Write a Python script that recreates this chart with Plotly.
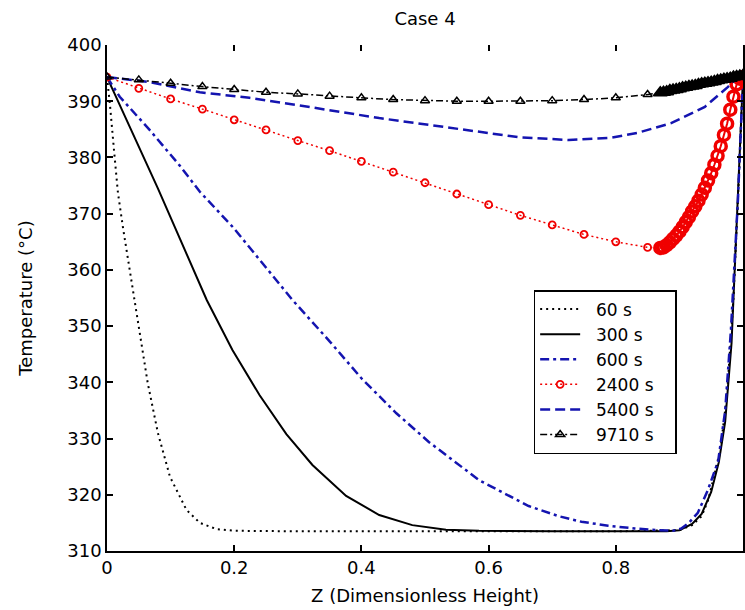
import plotly.graph_objects as go

# ---------------- data ----------------
z60 = [0, 0.0047, 0.011, 0.0172, 0.025, 0.033, 0.041, 0.052, 0.064, 0.08, 0.099, 0.125, 0.146, 0.172, 0.2,
       0.3, 0.4, 0.5, 0.6, 0.7, 0.8, 0.9, 0.92, 0.935, 0.945, 0.955, 0.965, 0.975, 0.985, 0.993, 1.0]
T60 = [394.3, 389.3, 381.3, 373.7, 367.6, 361.8, 355.9, 348.8, 339.9, 331.0, 323.2, 317.3, 315.0, 313.9, 313.6,
       313.5, 313.5, 313.5, 313.5, 313.5, 313.5, 313.7, 314.6, 316.2, 319.0, 323.5, 328.5, 338.0, 355.0, 375.0, 394.3]

z300 = [0, 0.08, 0.157, 0.197, 0.24, 0.282, 0.323, 0.376, 0.428, 0.48, 0.533, 0.585, 0.7, 0.8, 0.88,
        0.9, 0.92, 0.935, 0.95, 0.962, 0.972, 0.982, 0.99, 1.0]
T300 = [394.3, 374.5, 354.6, 345.8, 337.7, 330.8, 325.3, 319.8, 316.4, 314.6, 313.8, 313.6, 313.5, 313.5, 313.5,
        313.7, 314.8, 316.6, 320.5, 325.8, 333.0, 347.0, 368.0, 394.3]

z600 = [0, 0.02, 0.067, 0.114, 0.146, 0.198, 0.24, 0.292, 0.35, 0.401, 0.455, 0.506, 0.585, 0.663,
        0.71, 0.746, 0.788, 0.83, 0.867, 0.89, 0.903, 0.915, 0.929, 0.945, 0.961, 0.972, 0.981, 0.992, 1.0]
T600 = [394.3, 390.8, 384.9, 378.6, 373.9, 367.6, 361.8, 354.6, 347.3, 340.6, 334.5, 329.4, 322.6, 318.0,
        316.2, 315.2, 314.5, 314.0, 313.7, 313.6, 314.0, 315.0, 316.8, 320.9, 326.0, 335.0, 349.3, 372.4, 394.3]

z5400 = [0, 0.067, 0.146, 0.224, 0.3, 0.428, 0.506, 0.585, 0.647, 0.726, 0.793, 0.835, 0.887, 0.94, 0.976, 0.992, 1.0]
T5400 = [394.3, 393.4, 391.6, 390.6, 389.3, 387.0, 385.8, 384.5, 383.6, 383.1, 383.5, 384.4, 386.1, 389.0, 392.5, 394.3, 394.5]

# coarse grid (marker series) and refined grid near the top
z_coarse = [0, 0.05, 0.1, 0.15, 0.2, 0.25, 0.3, 0.35, 0.4, 0.45, 0.5, 0.55, 0.6, 0.65, 0.7, 0.75, 0.8, 0.85, 0.87]
z_dense = [0.87, 0.875, 0.88, 0.885, 0.89, 0.895, 0.9, 0.905, 0.91, 0.915, 0.92, 0.925, 0.93, 0.935,
           0.94, 0.945, 0.95, 0.955, 0.96, 0.965, 0.97, 0.975, 0.98, 0.985, 0.99, 0.995, 1.0]

T2400_coarse = [394.3, 392.3, 390.4, 388.6, 386.7, 384.9, 383.0, 381.2, 379.3, 377.4, 375.5, 373.5,
                371.6, 369.7, 368.0, 366.3, 365.0, 364.0, 363.9]
T2400_dense = [363.9, 364.0, 364.4, 364.9, 365.5, 366.1, 366.8, 367.6, 368.5, 369.4, 370.4, 371.3, 372.3,
               373.4, 374.6, 375.9, 377.2, 378.7, 380.3, 382.0, 384.0, 386.0, 388.5, 390.8, 393.0, 394.0, 394.3]

T9710_coarse = [394.3, 393.8, 393.2, 392.6, 392.1, 391.6, 391.3, 390.9, 390.6, 390.3, 390.1, 390.0,
                390.0, 390.0, 390.1, 390.3, 390.6, 391.2, 391.5]
T9710_dense = [391.5, 391.6, 391.7, 391.9, 392.0, 392.1, 392.2, 392.4, 392.5, 392.6, 392.7, 392.8, 393.0,
               393.1, 393.2, 393.3, 393.4, 393.5, 393.7, 393.8, 393.9, 394.0, 394.1, 394.3, 394.4, 394.5, 394.6]

x_ticks = [0, 0.2, 0.4, 0.6, 0.8, 1]
x_ticklabels = ["0", "0.2", "0.4", "0.6", "0.8", "1"]
y_ticks = [310, 320, 330, 340, 350, 360, 370, 380, 390, 400]

labels = ["60 s", "300 s", "600 s", "2400 s", "5400 s", "9710 s"]

# ---------------- styles ----------------
BLUE = "#1414b0"
RED = "#f00000"
FONT = "DejaVu Sans"
FS = 18
NB = "\u00a0"

fig = go.Figure()

def add(x, y, name, color, dash, width, mode="lines", marker=None, showlegend=True):
    fig.add_trace(go.Scatter(
        x=x, y=y, name=NB * 2 + name + NB * 3, mode=mode,
        line=dict(color=color, dash=dash, width=width),
        marker=marker, legendgroup=name, showlegend=showlegend))

add(z60, T60, labels[0], "black", "2px,4px", 2)
add(z300, T300, labels[1], "black", "solid", 2)
add(z600, T600, labels[2], BLUE, "9px,4px,3px,4px", 2.5)
add(z_coarse, T2400_coarse, labels[3], RED, "2px,3px", 1.5,
    mode="lines+markers", marker=dict(symbol="circle-open", size=7, color=RED, line=dict(width=1.8, color=RED)))
add(z_dense, T2400_dense, labels[3], RED, "solid", 2,
    mode="lines+markers", marker=dict(symbol="circle-open", size=11, color=RED, line=dict(width=3.5, color=RED)),
    showlegend=False)
add(z5400, T5400, labels[4], BLUE, "10px,5px", 2.5)
add(z_coarse, T9710_coarse, labels[5], "black", "7px,3px,2px,3px", 1.5,
    mode="lines+markers", marker=dict(symbol="triangle-up-open", size=8, color="black", line=dict(width=1.5, color="black")))
add(z_dense, T9710_dense, labels[5], "black", "solid", 2,
    mode="lines+markers", marker=dict(symbol="triangle-up", size=12, color="black", line=dict(width=1.5, color="black")),
    showlegend=False)

# helper trace so that the top (tick-only) axis is drawn
fig.add_trace(go.Scatter(x=z60, y=T60, xaxis="x2", mode="lines", line=dict(width=0),
                         opacity=0, showlegend=False, hoverinfo="skip"))

axis_font = dict(family=FONT, size=FS, color="black")
fig.update_layout(
    width=745, height=610,
    margin=dict(l=107, r=0, t=45, b=59),
    paper_bgcolor="white", plot_bgcolor="white",
    font=axis_font,
    title=dict(text="Case 4", x=0.5, xref="paper", y=1 - 19 / 610, yanchor="middle",
               xanchor="center", font=dict(family=FONT, size=FS, color="black")),
    xaxis=dict(range=[0, 1], tickvals=x_ticks, ticktext=x_ticklabels, ticks="inside", ticklen=6,
               tickcolor="black", tickwidth=1.5, showline=True, linecolor="black", linewidth=1.5,
               mirror=False, showgrid=False, zeroline=False, tickfont=axis_font,
               title=dict(text="Z (Dimensionless Height)", font=axis_font, standoff=12)),
    xaxis2=dict(range=[0, 1], overlaying="x", side="top", tickvals=x_ticks, ticks="inside", ticklen=6,
                tickcolor="black", tickwidth=1.5, showticklabels=False, showline=False,
                showgrid=False, zeroline=False),
    yaxis=dict(range=[310, 400], tickvals=y_ticks, ticks="inside", ticklen=6, tickcolor="black",
               tickwidth=1.5, showline=True, linecolor="black", linewidth=1.5, mirror="ticks",
               showgrid=False, zeroline=False, tickfont=axis_font,
               title=dict(text="Temperature (°C)", font=axis_font, standoff=30)),
    legend=dict(x=(535 - 107) / 638, y=(551 - 290) / 506, xanchor="left", yanchor="top",
                bgcolor="white", bordercolor="black", borderwidth=1.5,
                font=dict(family=FONT, size=17, color="black"), tracegroupgap=0,
                itemwidth=40),
    showlegend=True,
)

fig.write_html("out.html")
